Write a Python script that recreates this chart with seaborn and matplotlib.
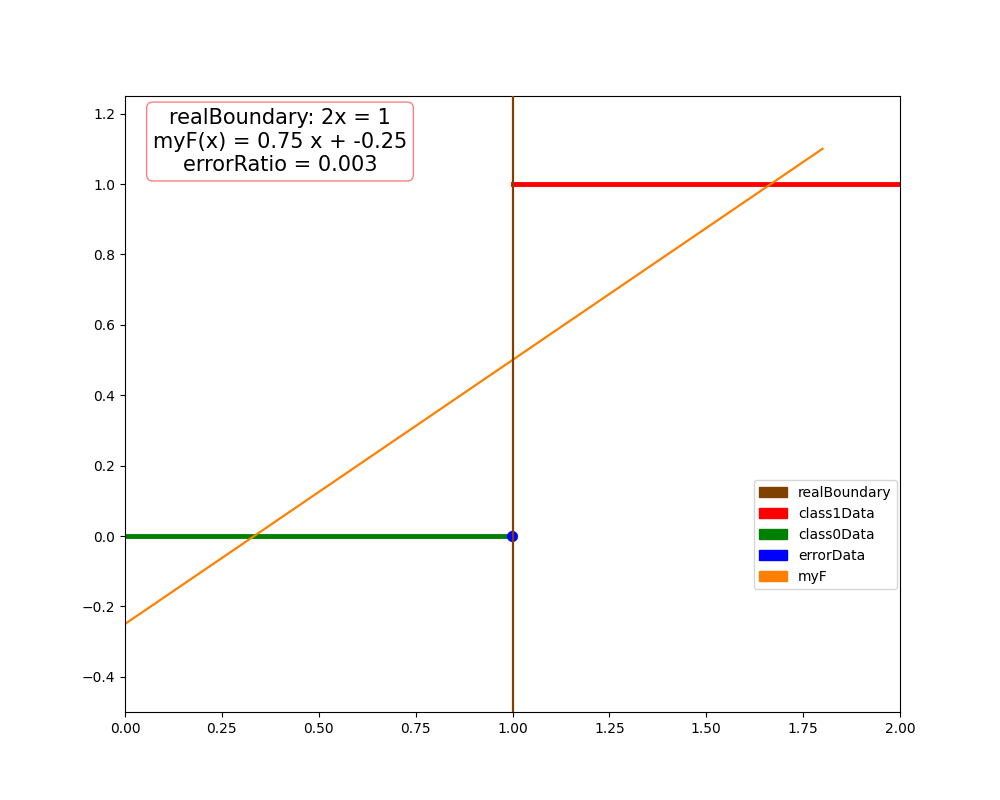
import matplotlib
matplotlib.use("Agg")
import matplotlib.pyplot as plt
import matplotlib.patches as mpatches
import seaborn as sns

# values
real_boundary_x = 1.0
class1_x = [1.0, 2.0]
class1_y = [1.0, 1.0]
class0_x = [0.0, 1.0]
class0_y = [0.0, 0.0]
error_x = [0.998]
error_y = [0.0]
myf_x = [0.0, 1.8]
myf_y = [-0.25, 1.1]

c_boundary = "#804000"
c_class1 = "red"
c_class0 = "green"
c_error = "blue"
c_myf = "#ff8000"

fig, ax = plt.subplots(figsize=(10, 8), dpi=100)

sns.lineplot(x=class1_x, y=class1_y, color=c_class1, linewidth=3.5, ax=ax,
             estimator=None, sort=False)
sns.lineplot(x=class0_x, y=class0_y, color=c_class0, linewidth=3.5, ax=ax,
             estimator=None, sort=False)
sns.scatterplot(x=error_x, y=error_y, color=c_error, s=55, edgecolor=None,
                ax=ax, zorder=3)
sns.lineplot(x=myf_x, y=myf_y, color=c_myf, linewidth=1.6, ax=ax,
             estimator=None, sort=False)
ax.axvline(real_boundary_x, color=c_boundary, linewidth=1.6, zorder=4)

ax.set_xlim(0, 2)
ax.set_ylim(-0.5, 1.25)

ax.text(0.2, 0.98,
        "realBoundary: 2x = 1\nmyF(x) = 0.75 x + -0.25\nerrorRatio = 0.003",
        transform=ax.transAxes, ha="center", va="top", fontsize=15,
        bbox=dict(boxstyle="round", facecolor="white", edgecolor="red", alpha=0.5))

handles = [
    mpatches.Patch(color=c_boundary, label="realBoundary"),
    mpatches.Patch(color=c_class1, label="class1Data"),
    mpatches.Patch(color=c_class0, label="class0Data"),
    mpatches.Patch(color=c_error, label="errorData"),
    mpatches.Patch(color=c_myf, label="myF"),
]
ax.legend(handles=handles, loc="lower right", bbox_to_anchor=(1.0, 0.195),
          borderaxespad=0.2)

fig.savefig("out.png", dpi=100)
